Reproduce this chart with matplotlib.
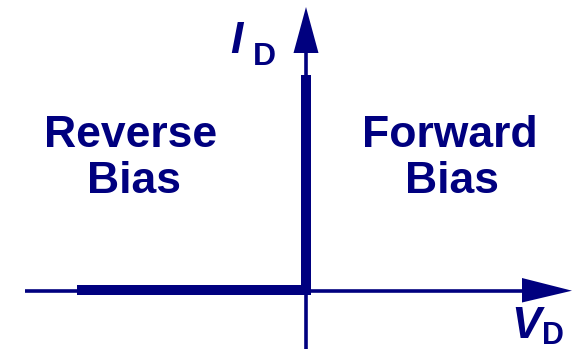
import matplotlib
matplotlib.use("Agg")
import matplotlib.pyplot as plt

# Ideal diode I-V characteristic (units: pixel-scaled, origin at 0,0)
V_curve = [-228.5, 0, 0]
I_curve = [0, 0, 215]

NAVY = "#00007f"
FONT = "Liberation Sans"

fig = plt.figure(figsize=(5.8, 3.53), dpi=100)
ax = fig.add_axes([0, 0, 1, 1])
ax.set_xlim(-305.5, 274.5)
ax.set_ylim(-63, 290)
ax.axis("off")

# thin axes
ax.plot([-280.5, 220], [-0.7, -0.7], color=NAVY, lw=2.6, solid_capstyle="butt")
ax.plot([0.5, 0.5], [-59, 240], color=NAVY, lw=2.6, solid_capstyle="butt")
# arrow heads
ax.fill([216.5, 266.5, 216.5], [12, -0.7, -12.5], color=NAVY, lw=0)
ax.fill([-12, 0.5, 13], [237, 283, 237], color=NAVY, lw=0)

# characteristic
ax.plot(V_curve, I_curve, color=NAVY, lw=7.2, solid_capstyle="butt",
        solid_joinstyle="miter")

# region labels
kw = dict(color=NAVY, fontsize=32, fontweight="bold", family=FONT,
          ha="center", va="baseline")
ax.text(-174.5, 143, "Reverse", **kw)
ax.text(-171.5, 97, "Bias", **kw)
ax.text(144.5, 143, "Forward", **kw)
ax.text(146.5, 97, "Bias", **kw)

# axis labels
ax.text(-69, 237, "I", color=NAVY, fontsize=32, fontweight="bold",
        style="italic", family=FONT, ha="center", va="baseline")
ax.text(-41, 225, "D", color=NAVY, fontsize=23, fontweight="bold",
        family=FONT, ha="center", va="baseline")
ax.text(220.5, -48, "V", color=NAVY, fontsize=32, fontweight="bold",
        style="italic", family=FONT, ha="center", va="baseline")
ax.text(247, -54, "D", color=NAVY, fontsize=22, fontweight="bold",
        family=FONT, ha="center", va="baseline")

fig.savefig("out.png", dpi=100)
